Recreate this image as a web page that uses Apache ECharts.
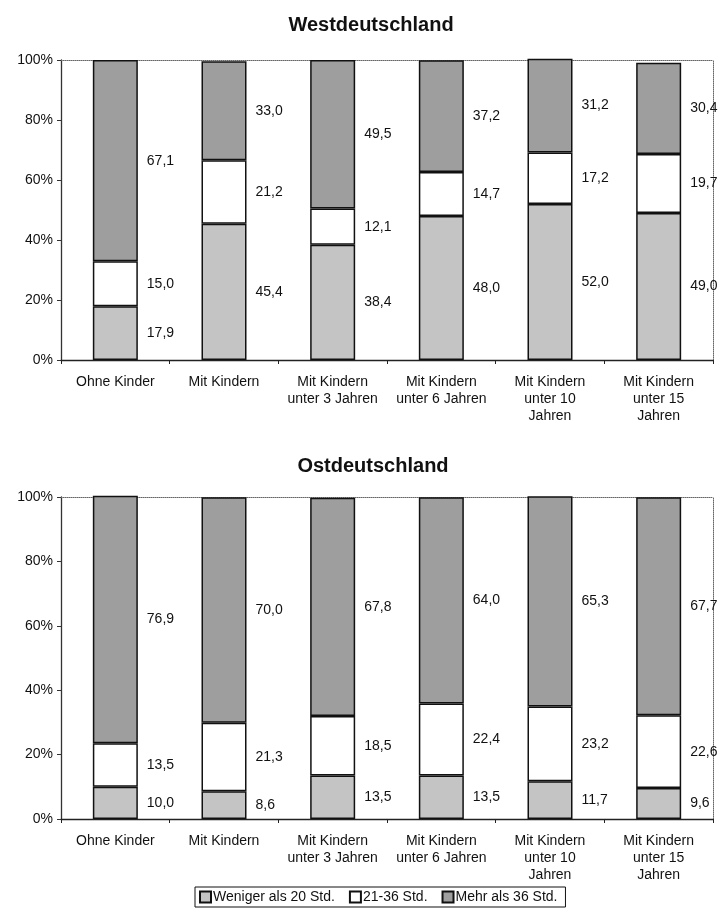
<!DOCTYPE html>
<html>
<head>
<meta charset="utf-8">
<script src="https://cdn.jsdelivr.net/npm/echarts@6/dist/echarts.min.js"></script>
<style>
html,body{margin:0;padding:0;background:#fff;}
#chart{width:719px;height:914px;}
</style>
</head>
<body>
<div id="chart"></div>
<script>
var categories = ["Ohne Kinder", "Mit Kindern", "Mit Kindern\nunter 3 Jahren", "Mit Kindern\nunter 6 Jahren", "Mit Kindern\nunter 10\nJahren", "Mit Kindern\nunter 15\nJahren"];
var seriesNames = ["Weniger als 20 Std.", "21-36 Std.", "Mehr als 36 Std."];
var westLow = [17.9, 45.4, 38.4, 48.0, 52.0, 49.0];
var westMid = [15.0, 21.2, 12.1, 14.7, 17.2, 19.7];
var westHigh = [67.1, 33.0, 49.5, 37.2, 31.2, 30.4];
var eastLow = [10.0, 8.6, 13.5, 13.5, 11.7, 9.6];
var eastMid = [13.5, 21.3, 18.5, 22.4, 23.2, 22.6];
var eastHigh = [76.9, 70.0, 67.8, 64.0, 65.3, 67.7];
var yTicks = [0, 20, 40, 60, 80, 100];
var titles = ["Westdeutschland", "Ostdeutschland"];

var colors = ["#c4c4c4", "#ffffff", "#9e9e9e"];
var font = "Liberation Sans, Arial, sans-serif";

function xAxisMain(gi) {
  return {
    type: 'category', gridIndex: gi, data: categories,
    axisLine: {onZero: false, lineStyle: {color: '#222', width: 1.3}},
    axisTick: {show: true, length: 4, lineStyle: {color: '#222'}},
    axisLabel: {color: '#111', fontSize: 14, fontFamily: font, lineHeight: 17, margin: 14, interval: 0}
  };
}
function xAxisTop(gi) {
  return {
    type: 'category', gridIndex: gi, data: categories, position: 'top',
    axisLine: {show: true, onZero: false, lineStyle: {color: '#666', width: 1, type: 'dotted'}},
    axisTick: {show: false}, axisLabel: {show: false}
  };
}
function yAxisMain(gi) {
  return {
    type: 'value', gridIndex: gi, min: 0, max: 100, interval: 20,
    axisLine: {show: true, onZero: false, lineStyle: {color: '#333', width: 1.3}},
    axisTick: {show: true, length: 4, lineStyle: {color: '#333'}},
    splitLine: {show: false},
    axisLabel: {color: '#111', fontSize: 14, fontFamily: font, margin: 8,
      formatter: function (v) { return yTicks.indexOf(v) >= 0 ? v + '%' : ''; }}
  };
}
function yAxisRight(gi) {
  return {
    type: 'value', gridIndex: gi, min: 0, max: 100, interval: 20, position: 'right',
    axisLine: {show: true, onZero: false, lineStyle: {color: '#666', width: 1, type: 'dotted'}},
    axisTick: {show: false}, axisLabel: {show: false}, splitLine: {show: false}
  };
}

function makeSeries(data, idx, gi) {
  return {
    name: seriesNames[idx], type: 'bar', stack: 'g' + gi,
    xAxisIndex: gi * 2, yAxisIndex: gi * 2,
    data: data, barWidth: 45, clip: false,
    itemStyle: {color: colors[idx], borderColor: '#111', borderWidth: 1.5},
    label: {
      show: true, position: 'right', distance: 9, color: '#111',
      fontSize: 14, fontFamily: font,
      formatter: function (p) { return p.value.toFixed(1).replace('.', ','); }
    }
  };
}

var option = {
  backgroundColor: '#fff',
  animation: false,
  title: [
    {text: titles[0], left: 366, top: 10, textAlign: 'center',
      textStyle: {fontSize: 20, fontWeight: 'bold', fontFamily: font, color: '#111'}},
    {text: titles[1], left: 368, top: 451, textAlign: 'center',
      textStyle: {fontSize: 20, fontWeight: 'bold', fontFamily: font, color: '#111'}}
  ],
  legend: {
    data: seriesNames,
    left: 195, top: 887,
    itemWidth: 11, itemHeight: 11, itemGap: 14,
    borderColor: '#111', borderWidth: 1, padding: [3, 8, 3, 4],
    textStyle: {fontSize: 14, fontFamily: font, color: '#111', padding: [0, 0, 0, -3]},
    icon: 'rect'
  },
  grid: [
    {left: 61, right: 6, top: 60, height: 300},
    {left: 61, right: 6, top: 497, height: 322}
  ],
  xAxis: [xAxisMain(0), xAxisTop(0), xAxisMain(1), xAxisTop(1)],
  yAxis: [yAxisMain(0), yAxisRight(0), yAxisMain(1), yAxisRight(1)],
  series: [
    makeSeries(westLow, 0, 0), makeSeries(westMid, 1, 0), makeSeries(westHigh, 2, 0),
    makeSeries(eastLow, 0, 1), makeSeries(eastMid, 1, 1), makeSeries(eastHigh, 2, 1)
  ]
};

var chart = echarts.init(document.getElementById('chart'), null, {renderer: 'canvas'});
chart.setOption(option);
</script>
</body>
</html>
